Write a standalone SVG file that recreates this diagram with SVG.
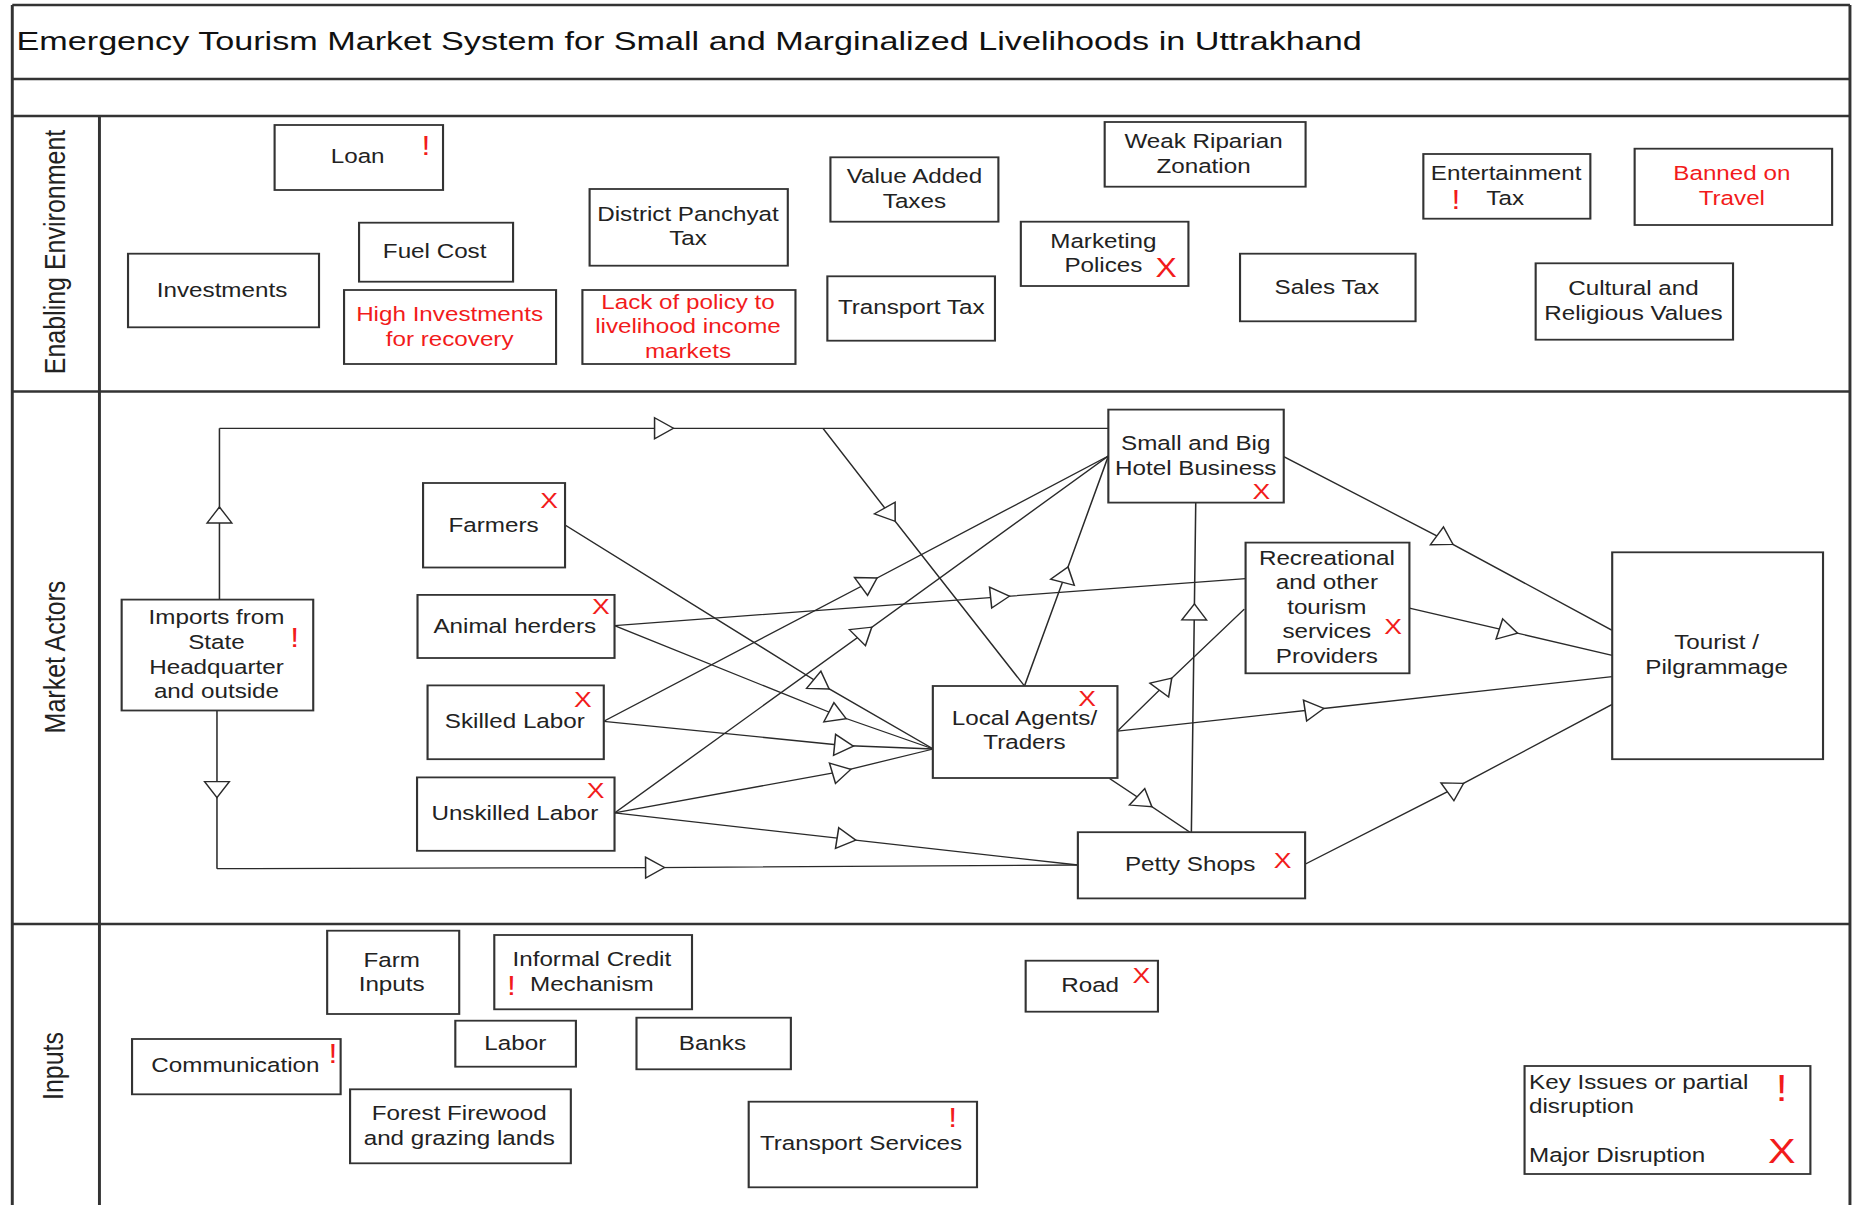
<svg xmlns="http://www.w3.org/2000/svg" width="1852" height="1205" viewBox="0 0 1852 1205">
<style>
.bg{fill:#fff}
.fr{stroke:#333;stroke-width:2.5;fill:none}
.box{fill:#fff;stroke:#333;stroke-width:1.8}
.c{fill:none;stroke:#2a2a2a;stroke-width:1.3;marker-mid:url(#tri)}
text{font-family:"Liberation Sans",Arial,Helvetica,sans-serif}
.t{font-size:20.5px;fill:#222;text-anchor:middle}
.rt{font-size:20.5px;fill:#f21b1b;text-anchor:middle}
.lg{font-size:20.5px;fill:#222;text-anchor:start}
.x{font-size:22.5px;fill:#f21b1b;text-anchor:middle}
.ex{font-size:27px;fill:#f21b1b;text-anchor:middle}
.lane{font-size:25px;fill:#222;text-anchor:middle}
.title{font-size:25.5px;fill:#111}
</style>
<defs>
<marker id="tri" markerUnits="userSpaceOnUse" markerWidth="20" markerHeight="24" refX="8" refY="10.5" orient="auto" overflow="visible">
<path d="M0,0 L16,10.5 L0,21 Z" fill="#fff" stroke="#2a2a2a" stroke-width="1.3"/>
</marker>
</defs>
<rect class="bg" x="0" y="0" width="1852" height="1205"/>
<g transform="scale(1.1811,1)">
<g id="frame">
<line class="fr" x1="10.4" y1="5" x2="1566.3" y2="5"/>
<line class="fr" x1="10.4" y1="5" x2="10.4" y2="1205"/>
<line class="fr" x1="1566.3" y1="5" x2="1566.3" y2="1205"/>
<line class="fr" x1="10.4" y1="79" x2="1566.3" y2="79"/>
<line class="fr" x1="10.4" y1="116" x2="1566.3" y2="116"/>
<line class="fr" x1="10.4" y1="391.5" x2="1566.3" y2="391.5"/>
<line class="fr" x1="10.4" y1="924" x2="1566.3" y2="924"/>
<line class="fr" x1="84.2" y1="116" x2="84.2" y2="1205"/>
<text class="lane" transform="translate(55,252) rotate(-90)">Enabling Environment</text>
<text class="lane" transform="translate(55,657) rotate(-90)">Market Actors</text>
<text class="lane" transform="translate(53,1066) rotate(-90)">Inputs</text>
</g>
<g id="title">
<text class="title" x="14" y="50" textLength="1139" lengthAdjust="spacingAndGlyphs">Emergency Tourism Market System for Small and Marginalized Livelihoods in Uttrakhand</text>
</g>
<g id="connectors">
<path class="c" d="M185.8,600 L185.8,515 L185.8,428.3"/>
<path class="c" d="M185.8,428.3 L562.2,428.3 L938.4,428.3"/>
<path class="c" d="M183.7,710.5 L183.7,789.6 L183.7,868.7"/>
<path class="c" d="M183.7,868.7 L554.6,867.6 L912.6,865"/>
<path class="c" d="M696.8,428.3 L753.5,514.7 L867.4,686"/>
<path class="c" d="M867.4,686 L901.9,574.6 L938.4,456"/>
<path class="c" d="M511.2,721.3 L735.8,582.2 L938.4,456"/>
<path class="c" d="M520.3,812.9 L732,632.4 L938.4,456"/>
<path class="c" d="M478.4,524.9 L695.5,684.4 L790.2,749"/>
<path class="c" d="M520.3,625.6 L846.7,596.9 L1054.6,578.6"/>
<path class="c" d="M520.3,625.6 L709.1,715.5 L790.2,749"/>
<path class="c" d="M511.2,721.3 L714.6,745.5 L790.2,749"/>
<path class="c" d="M520.3,812.9 L712.6,771.3 L790.2,749"/>
<path class="c" d="M520.3,812.9 L716.7,839.1 L912.6,865"/>
<path class="c" d="M946.1,731.1 L986.8,684.1 L1053.5,609.1"/>
<path class="c" d="M946.1,731.1 L1112.9,709.5 L1365,676.7"/>
<path class="c" d="M939.4,778.4 L969,801.8 L1007.5,832.2"/>
<path class="c" d="M1008.7,832.2 L1011.2,611.9 L1012.4,502.6"/>
<path class="c" d="M1086.9,456.6 L1223.4,540.1 L1365,630.4"/>
<path class="c" d="M1193.3,608.1 L1277.2,631.1 L1365,655.4"/>
<path class="c" d="M1104.9,864.3 L1232.3,787.6 L1365,704.4"/>
</g>
<g id="node-loan"><rect class="box" x="232.5" y="125" width="142.6" height="65"/><text class="t" x="302.8" y="163.5">Loan</text><text class="ex" x="360.7" y="155">!</text></g>
<g id="node-fuel-cost"><rect class="box" x="304" y="222.7" width="130.4" height="59"/><text class="t" x="368" y="258">Fuel Cost</text></g>
<g id="node-investments"><rect class="box" x="108.4" y="253.7" width="161.7" height="73.6"/><text class="t" x="188" y="297">Investments</text></g>
<g id="node-high-investments"><rect class="box" x="291.3" y="290" width="179.5" height="74"/><text class="rt" x="380.7" y="321">High Investments</text><text class="rt" x="380.7" y="345.7">for recovery</text></g>
<g id="node-district-tax"><rect class="box" x="499.2" y="189" width="167.8" height="76.7"/><text class="t" x="582.5" y="221">District Panchyat</text><text class="t" x="582.5" y="245">Tax</text></g>
<g id="node-lack-policy"><rect class="box" x="493.1" y="290" width="180.4" height="74"/><text class="rt" x="582.5" y="309">Lack of policy to</text><text class="rt" x="582.5" y="333.3">livelihood income</text><text class="rt" x="582.5" y="357.7">markets</text></g>
<g id="node-vat"><rect class="box" x="703.1" y="157.3" width="142.2" height="64.4"/><text class="t" x="774.2" y="183">Value Added</text><text class="t" x="774.2" y="207.7">Taxes</text></g>
<g id="node-transport-tax"><rect class="box" x="700.5" y="276.3" width="141.9" height="64.4"/><text class="t" x="771.5" y="314">Transport Tax</text></g>
<g id="node-riparian"><rect class="box" x="935.3" y="122" width="170.1" height="64.7"/><text class="t" x="1019" y="148">Weak Riparian</text><text class="t" x="1019" y="172.7">Zonation</text></g>
<g id="node-marketing"><rect class="box" x="864.3" y="221.7" width="141.9" height="64.3"/><text class="t" x="934.2" y="247.7">Marketing</text><text class="t" x="934.2" y="272">Polices</text><text class="x" x="987.3" y="276.7" style="font-size:27px">X</text></g>
<g id="node-sales-tax"><rect class="box" x="1049.9" y="253.7" width="148.6" height="67.6"/><text class="t" x="1123.4" y="293.7">Sales Tax</text></g>
<g id="node-entertainment"><rect class="box" x="1205.1" y="154" width="141.4" height="64.7"/><text class="t" x="1275.2" y="180.3">Entertainment</text><text class="t" x="1274.4" y="205.3">Tax</text><text class="ex" x="1232.8" y="209">!</text></g>
<g id="node-banned"><rect class="box" x="1384" y="148.7" width="167.2" height="76.3"/><text class="rt" x="1466.3" y="180.3">Banned on</text><text class="rt" x="1466.3" y="204.7">Travel</text></g>
<g id="node-cultural"><rect class="box" x="1300.2" y="263.3" width="167.1" height="76.4"/><text class="t" x="1383" y="295.3">Cultural and</text><text class="t" x="1383" y="319.7">Religious Values</text></g>
<g id="node-imports"><rect class="box" x="103" y="599.6" width="162.2" height="110.9"/><text class="t" x="183.3" y="624.3">Imports from</text><text class="t" x="183.3" y="648.9">State</text><text class="t" x="183.3" y="673.7">Headquarter</text><text class="t" x="183.3" y="698">and outside</text><text class="ex" x="249.6" y="646.6">!</text></g>
<g id="node-farmers"><rect class="box" x="358.2" y="483" width="120.2" height="84.5"/><text class="t" x="417.9" y="532.3">Farmers</text><text class="x" x="465" y="508.4">X</text></g>
<g id="node-animal-herders"><rect class="box" x="353.5" y="594.9" width="166.8" height="63.1"/><text class="t" x="435.9" y="632.7">Animal herders</text><text class="x" x="508.7" y="613.8">X</text></g>
<g id="node-skilled"><rect class="box" x="362" y="685.4" width="149.2" height="73.8"/><text class="t" x="435.9" y="728.4">Skilled Labor</text><text class="x" x="493.6" y="707.4">X</text></g>
<g id="node-unskilled"><rect class="box" x="353.1" y="777.4" width="167.2" height="73.4"/><text class="t" x="435.9" y="820.3">Unskilled Labor</text><text class="x" x="504.2" y="798.4">X</text></g>
<g id="node-hotel"><rect class="box" x="938.4" y="409.6" width="148.5" height="93"/><text class="t" x="1012.4" y="450.1">Small and Big</text><text class="t" x="1012.4" y="474.9">Hotel Business</text><text class="x" x="1068" y="498.8">X</text></g>
<g id="node-recreational"><rect class="box" x="1054.6" y="542.6" width="138.7" height="130.7"/><text class="t" x="1123.4" y="564.9">Recreational</text><text class="t" x="1123.4" y="589.3">and other</text><text class="t" x="1123.4" y="613.6">tourism</text><text class="t" x="1123.4" y="638.5">services</text><text class="t" x="1123.4" y="662.8">Providers</text><text class="x" x="1179.5" y="634.1">X</text></g>
<g id="node-tourist"><rect class="box" x="1365" y="552.3" width="178.5" height="206.9"/><text class="t" x="1453.4" y="648.9">Tourist /</text><text class="t" x="1453.4" y="673.7">Pilgrammage</text></g>
<g id="node-local-agents"><rect class="box" x="789.8" y="686" width="156.3" height="92"/><text class="t" x="867.4" y="725">Local Agents/</text><text class="t" x="867.4" y="749.5">Traders</text><text class="x" x="920.4" y="706.5">X</text></g>
<g id="node-petty-shops"><rect class="box" x="912.6" y="832.2" width="192.4" height="66.2"/><text class="t" x="1007.7" y="871.4">Petty Shops</text><text class="x" x="1085.9" y="868.4">X</text></g>
<g id="node-farm-inputs"><rect class="box" x="277" y="930.7" width="111.8" height="83.3"/><text class="t" x="331.6" y="967">Farm</text><text class="t" x="331.6" y="991">Inputs</text></g>
<g id="node-informal-credit"><rect class="box" x="418.5" y="935" width="167.4" height="74.3"/><text class="t" x="501.1" y="966.3">Informal Credit</text><text class="t" x="501.1" y="991">Mechanism</text><text class="ex" x="433" y="995">!</text></g>
<g id="node-labor"><rect class="box" x="385.5" y="1020.7" width="102.1" height="46"/><text class="t" x="436.3" y="1049.7">Labor</text></g>
<g id="node-banks"><rect class="box" x="538.9" y="1017.7" width="130.7" height="51.6"/><text class="t" x="603.2" y="1049.7">Banks</text></g>
<g id="node-communication"><rect class="box" x="111.8" y="1039" width="176.6" height="55.3"/><text class="t" x="199.3" y="1072">Communication</text><text class="ex" x="281.9" y="1063.3">!</text></g>
<g id="node-forest"><rect class="box" x="296.4" y="1089.3" width="186.9" height="74"/><text class="t" x="388.8" y="1119.7">Forest Firewood</text><text class="t" x="388.8" y="1144.7">and grazing lands</text></g>
<g id="node-transport-services"><rect class="box" x="633.9" y="1101.7" width="193.3" height="85.6"/><text class="t" x="729" y="1150.3">Transport Services</text><text class="ex" x="806.7" y="1126.7">!</text></g>
<g id="node-road"><rect class="box" x="868.4" y="960.7" width="112" height="51"/><text class="t" x="923" y="992">Road</text><text class="x" x="966.3" y="983.3">X</text></g>
<g id="legend"><rect class="box" x="1290.8" y="1066" width="242" height="108"/><text class="lg" x="1294.6" y="1089.5">Key Issues or partial</text><text class="lg" x="1294.6" y="1113.5">disruption</text><text class="lg" x="1294.6" y="1162">Major Disruption</text><text class="ex" x="1508.5" y="1101.5" style="font-size:36px">!</text><text class="x" x="1508.5" y="1163.5" style="font-size:35px">X</text></g>
</g>
</svg>
